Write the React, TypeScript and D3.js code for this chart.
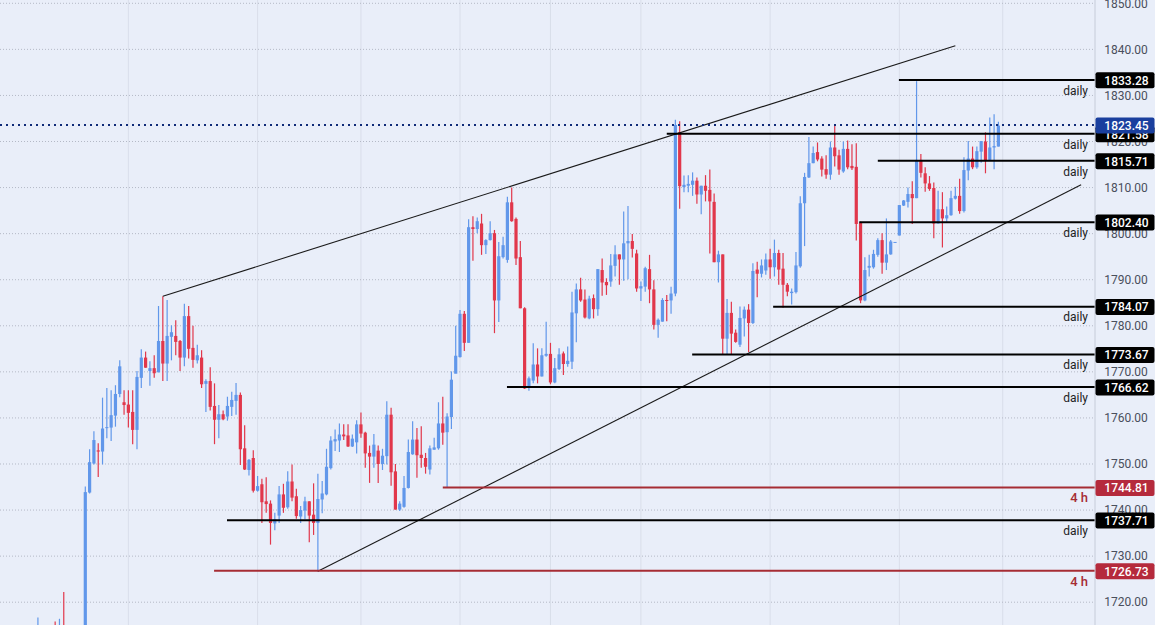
import React from "react";
import * as d3 from "d3";

type Candle = [number, number, number, number];

// open, high, low, close. the first 11 sit mostly below the visible range
const earlyCandles: Candle[] = [
  [1710, 1716.7, 1708, 1713], [1713, 1714, 1708, 1710], [1708, 1713, 1706, 1711], [1711, 1713, 1706, 1708],
  [1710, 1715.8, 1706, 1708], [1708, 1716.4, 1706, 1712], [1712, 1722.2, 1704, 1706], [1706, 1710, 1700, 1702],
  [1702, 1708, 1700, 1705], [1705, 1708, 1698, 1700], [1700, 1704, 1697, 1702],
];

const candles: Candle[] = [
  [1700, 1745.1, 1698, 1743.9], [1743.8, 1753.2, 1743.6, 1750.4], [1750.1, 1757.1, 1749.9, 1755.2], [1752.95, 1754.5, 1747.2, 1752.7],
  [1752.7, 1764.4, 1749.9, 1757.7], [1757.8, 1766.5, 1755.6, 1758], [1757.9, 1766, 1755, 1760.6], [1760.5, 1767.1, 1758.1, 1765.2],
  [1765.2, 1772.5, 1764.5, 1771.2], [1763.4, 1766, 1760.7, 1762.8], [1762.9, 1766, 1757.9, 1761.1], [1761.3, 1766, 1754.3, 1757.4],
  [1757.4, 1770.2, 1753.2, 1768.9], [1768.7, 1774.9, 1766.5, 1773.1], [1773.1, 1774.4, 1770.9, 1770.9], [1770.2, 1772.3, 1767, 1770.8],
  [1770.8, 1773.6, 1768.7, 1769.7], [1769.9, 1784.3, 1769.9, 1776.7], [1776.7, 1786.4, 1768, 1771.8], [1771.8, 1785.6, 1768, 1777.8],
  [1777.6, 1780.1, 1772.5, 1778.6], [1777.8, 1781.2, 1773.6, 1776.5], [1776.7, 1776.9, 1770.2, 1773.1], [1773.1, 1784.8, 1771.2, 1782.1],
  [1782.1, 1784.3, 1772.9, 1775], [1775.2, 1780, 1770.9, 1772.6], [1772.5, 1775.9, 1771.8, 1773.6], [1773.1, 1774.7, 1766.5, 1767.3],
  [1767.4, 1768.4, 1761.3, 1768], [1768, 1771, 1761.6, 1762.4], [1762.6, 1767.5, 1754.3, 1759.6], [1759.6, 1762.8, 1755.6, 1760.8],
  [1760.8, 1761.6, 1759.5, 1759.7], [1760.3, 1764.6, 1759.4, 1762.6], [1762.4, 1765.7, 1760.4, 1763.9], [1763.7, 1767.6, 1760.7, 1765],
  [1765, 1765.5, 1749.8, 1753.2], [1753.4, 1758.4, 1748.7, 1748.8], [1748.7, 1751.1, 1747.5, 1750.9], [1751.3, 1753, 1743.8, 1744.2],
  [1744.2, 1747.4, 1744, 1745.2], [1745.6, 1746.8, 1737.2, 1741.7], [1741.9, 1747.1, 1739.4, 1741.3], [1741.4, 1742.1, 1732.5, 1737.2],
  [1737.1, 1739.4, 1735.6, 1738], [1738.8, 1745.2, 1737.2, 1743.4], [1743.4, 1745.7, 1739.4, 1740.5], [1740.6, 1748.4, 1740.3, 1746.2],
  [1746.2, 1749.9, 1741.9, 1742.7], [1743, 1744.6, 1738.1, 1738.7], [1738.6, 1740.9, 1737.2, 1740], [1739.9, 1742.9, 1738, 1741.9],
  [1741.9, 1741.9, 1733, 1738.8], [1739, 1745.8, 1734.6, 1737.2], [1737.2, 1747.9, 1726.6, 1742.4], [1742.3, 1746.3, 1739.3, 1743.6],
  [1743.4, 1753.3, 1743.2, 1749.4], [1749.1, 1756, 1748.8, 1755.1], [1754.9, 1757.5, 1752.8, 1755.4], [1755.1, 1758.8, 1752.6, 1756.4],
  [1756.4, 1758.6, 1755.2, 1756], [1756.2, 1758.6, 1753.7, 1753.8], [1753.8, 1756.4, 1753.7, 1755.5], [1754.7, 1759.5, 1752.3, 1758.6],
  [1758.6, 1761.2, 1755.7, 1756.6], [1756.8, 1757, 1749.2, 1752.3], [1752.4, 1754, 1745.9, 1751.6], [1751.6, 1756.5, 1749.2, 1754.2],
  [1752.9, 1754, 1745.9, 1750], [1750, 1753.3, 1748.7, 1751.8], [1751.7, 1763.6, 1749.9, 1760.7], [1760.7, 1762.2, 1745.3, 1748.2],
  [1748.4, 1750, 1740.1, 1740.1], [1740.1, 1741.9, 1739.8, 1741.4], [1740.7, 1747.4, 1740.5, 1744.8], [1744.8, 1755.3, 1744.7, 1752.6],
  [1752.1, 1759.3, 1752, 1755.3], [1755.3, 1757.8, 1747, 1751.9], [1752, 1758.2, 1749.2, 1751.3], [1751.3, 1752.4, 1747.9, 1749.4],
  [1748.8, 1754, 1747.7, 1753.4], [1753.1, 1755.7, 1753.1, 1753.6], [1753.4, 1763.4, 1753.1, 1758.8], [1758.8, 1764.6, 1754.2, 1756.8],
  [1756.9, 1761, 1745, 1760.3], [1760.2, 1770.1, 1757.6, 1768.3], [1769.6, 1780, 1769.7, 1773.5], [1773.2, 1783.4, 1773.1, 1782.6],
  [1782.6, 1783.2, 1774.5, 1776.3], [1776.3, 1803.1, 1776.3, 1801.4], [1801.4, 1803.8, 1794.1, 1801], [1801, 1803.5, 1800.1, 1802.7],
  [1802.2, 1804.3, 1795.4, 1797.5], [1797.5, 1798.8, 1795.6, 1798.6], [1798.6, 1802.7, 1798.5, 1800.1], [1800.1, 1800.8, 1778.4, 1785.5],
  [1785.5, 1798.2, 1780.8, 1795.1], [1794.9, 1799.3, 1794.6, 1797.5], [1794.3, 1808, 1793.7, 1806.8], [1806.8, 1810, 1802.6, 1802.7],
  [1803.2, 1803.5, 1793.2, 1794.6], [1794.9, 1798.4, 1783.8, 1783.8], [1783.8, 1784, 1766.3, 1766.4], [1766.8, 1769, 1765.9, 1768.6],
  [1768.1, 1776.2, 1767.5, 1771.6], [1771.6, 1775.1, 1767.5, 1769], [1769, 1775.1, 1769, 1773.6], [1773.5, 1780.9, 1773.3, 1773.9],
  [1773.9, 1776.3, 1767.3, 1767.7], [1767.7, 1773, 1767.5, 1770.8], [1770.6, 1775.1, 1770.4, 1773.8], [1774, 1774.4, 1769.3, 1771.7],
  [1771.7, 1775.5, 1771.1, 1772.4], [1772.2, 1787.4, 1770.6, 1782.9], [1782.7, 1789.2, 1776.4, 1787.9], [1787.9, 1790.4, 1785.2, 1785.5],
  [1785.7, 1787.9, 1781.6, 1781.8], [1781.6, 1786.5, 1781.4, 1785.9], [1786, 1786.8, 1781.6, 1783.6], [1783.6, 1792.3, 1782.2, 1792.3],
  [1792.1, 1794.6, 1786.5, 1789.4], [1789.5, 1790.3, 1786.7, 1788.8], [1789.6, 1795.6, 1788.5, 1793.1], [1793, 1797.5, 1790.7, 1795.5],
  [1795.5, 1795.5, 1788.9, 1794.4], [1794.4, 1804.8, 1789.8, 1797.9], [1797.9, 1806, 1790.1, 1798.4], [1798.4, 1799.9, 1794.8, 1796.7],
  [1795.7, 1796.5, 1787.4, 1788.1], [1788.1, 1789.6, 1785.4, 1788.6], [1788.5, 1792.8, 1787.4, 1792.5], [1792.3, 1795.4, 1784.9, 1787.9],
  [1787.9, 1789.9, 1779.2, 1780.2], [1780.2, 1781.6, 1777.4, 1781.3], [1780.9, 1786, 1780.9, 1785.6], [1785.6, 1786.7, 1781, 1785.4],
  [1785.5, 1788.5, 1782.6, 1787], [1787, 1824.7, 1786.4, 1823.6], [1822, 1824.4, 1805.4, 1810.3], [1810.1, 1812.6, 1809, 1810.6],
  [1810.4, 1812.7, 1809, 1810.8], [1810.6, 1813.3, 1808.2, 1811.5], [1811.5, 1812.2, 1806.5, 1808.5], [1808.5, 1810.4, 1804.2, 1810.4],
  [1810.4, 1812.7, 1807, 1809.3], [1809.5, 1813.9, 1795.7, 1807], [1806.9, 1808.7, 1793.8, 1793.8], [1793.8, 1796.3, 1789.4, 1795.5],
  [1795.5, 1795.5, 1773.9, 1777.2], [1777.2, 1785.8, 1773.9, 1782.8], [1782.8, 1785.2, 1773.9, 1778.3], [1778.5, 1779.2, 1776.3, 1776.5],
  [1775.9, 1784.2, 1775.4, 1781.7], [1781.6, 1784.2, 1777.7, 1783.5], [1783.5, 1784.7, 1774.3, 1780.6], [1780.6, 1793.6, 1780.4, 1791.9],
  [1792.2, 1793.9, 1786.2, 1791.3], [1791.3, 1794.4, 1790.5, 1793.1], [1792, 1795.7, 1791.1, 1794.4], [1794.4, 1796.7, 1790.2, 1792.7],
  [1792.7, 1798.7, 1790.7, 1795.8], [1795.8, 1796.5, 1788.9, 1792.2], [1792.4, 1795.8, 1783.9, 1788.9], [1788.9, 1789.3, 1786.4, 1787.4],
  [1787.1, 1788.1, 1784.6, 1787.4], [1787.3, 1796, 1787, 1793.1], [1792.9, 1808.1, 1792.6, 1806.6], [1806.6, 1813.2, 1797.3, 1812.3],
  [1812.2, 1821, 1812.1, 1815.3], [1815.3, 1818.9, 1815.3, 1817.5], [1817.7, 1819.8, 1815.7, 1816.1], [1816.3, 1816.8, 1812.4, 1813.9],
  [1814, 1817, 1811.9, 1812.8], [1812.8, 1820, 1811.7, 1818.7], [1818.7, 1823.6, 1814.6, 1816.8], [1817, 1818.2, 1812.8, 1813.9],
  [1813.5, 1820, 1813.2, 1818.4], [1818.4, 1820.2, 1814, 1814.4], [1814.7, 1819.4, 1813.8, 1814.2], [1814.5, 1819.6, 1798.5, 1802.1],
  [1802.4, 1802.6, 1784.9, 1785.5], [1785.5, 1794.9, 1785.3, 1792.1], [1792.6, 1795.4, 1790.7, 1793], [1792.7, 1796.5, 1792.4, 1795.6],
  [1795.4, 1799, 1795, 1798.6], [1798.6, 1800.1, 1791.3, 1793.7], [1793.7, 1803.3, 1792.1, 1795.5], [1795.5, 1798.6, 1795.4, 1798.3],
  [1798.1, 1798.2, 1798.1, 1798.2], [1799.6, 1806.2, 1799.6, 1806.2], [1806.1, 1807.3, 1806, 1807.2], [1806.9, 1810, 1805.7, 1808.6],
  [1808.6, 1811.4, 1802.1, 1807.7], [1807.7, 1833.1, 1807.7, 1816], [1816, 1817.3, 1812.2, 1813.2], [1813.1, 1814.4, 1809.1, 1810.9],
  [1810.9, 1812.5, 1809.3, 1809.7], [1809.9, 1811.1, 1799, 1802.2], [1802.2, 1809.3, 1802.2, 1805.3], [1805.3, 1809, 1797, 1803.3],
  [1803.3, 1805.9, 1802.6, 1804], [1804, 1809.3, 1803.9, 1807.7], [1807.6, 1810.2, 1807.4, 1808.2], [1808.2, 1811.9, 1804.3, 1804.9],
  [1804.9, 1816.6, 1804.6, 1813.8], [1813.7, 1820.1, 1811.6, 1816.3], [1816.3, 1818.9, 1814, 1814.4], [1814.4, 1818.9, 1814.1, 1817.9],
  [1817.8, 1820.1, 1815.4, 1820.1], [1820, 1822, 1813.1, 1815.8], [1816, 1825.2, 1815.9, 1818.7], [1818.7, 1825.9, 1814, 1819],
  [1818.9, 1824.3, 1818.9, 1823.45],
];

const priceTicks = d3.range(1720, 1851, 10);
const gridBars = [10, 40, 64, 87, 108, 129, 159, 189, 213];

const lastPrice = 1823.45;
const levelPrices = [1833.28, 1821.58, 1815.71, 1802.4, 1784.07, 1773.67, 1766.62, 1744.81, 1737.71, 1726.73];
const levelStarts = [188.9, 135, 184, 179.7, 159.7, 140.9, 97.9, 83, 32.9, 29.9];
const levelFrames = ["daily", "daily", "daily", "daily", "daily", "daily", "daily", "4 h", "daily", "4 h"];

// [bar, price] ends of the two channel lines
const upperTrend = [[18, 1786.4], [202, 1840.8]];
const lowerTrend = [[54, 1726.7], [231.2, 1810.6]];

const bg = "#e9eef9";
const up = "#6197ea";
const down = "#e1374b";
const black = "#000000";
const lineRed = "#a62c34";
const tagRed = "#b52a3c";
const axisX = 1095;
const font = "Roboto, sans-serif";

const x = d3.scaleLinear().domain([0, 212]).range([85.3, 998.4]);
const y = d3.scaleLinear().domain([1720, 1850]).range([602.2, 3.3]);
const fmt = d3.format(".2f");
const trendLine = d3.line<number[]>().x((d) => x(d[0])).y((d) => y(d[1]));

function Tag({ price, fill }: { price: number; fill: string }) {
  return (
    <g transform={`translate(${axisX + 0.5},${y(price)})`}>
      <rect x={0} y={-8} width={59} height={16} rx={2} fill={fill} />
      <text x={31} y={4.3} textAnchor="middle" fill="#fff" fontSize={12} fontWeight={500} fontFamily={font}>
        {fmt(price)}
      </text>
    </g>
  );
}

export default function App() {
  const bars = [...earlyCandles, ...candles].map((c, i) => ({ c, i: i - earlyCandles.length }));
  return (
    <>
      <style>{`html,body{margin:0;background:${bg}}`}</style>
      <svg width={1155} height={625} style={{ display: "block", background: bg }}>
        {gridBars.map((b) => (
          <line key={b} x1={x(b)} x2={x(b)} y1={0} y2={625} stroke="#d9deea" strokeWidth={1} />
        ))}
        {priceTicks.map((t) => (
          <line key={t} x1={0} x2={axisX} y1={y(t)} y2={y(t)} stroke="#b4b9c6" strokeWidth={1} strokeDasharray="1 2" />
        ))}

        {bars.map(({ c, i }) => {
          const [o, h, l, cl] = c;
          const col = cl >= o ? up : down;
          const top = y(Math.max(o, cl));
          const bottom = y(Math.min(o, cl));
          return (
            <g key={i}>
              <line x1={x(i)} x2={x(i)} y1={y(h)} y2={y(l)} stroke={col} strokeWidth={1.2} />
              <rect x={x(i) - 1.6} y={top} width={3.2} height={Math.max(bottom - top, 1)} fill={col} />
            </g>
          );
        })}

        <path d={trendLine(upperTrend) ?? ""} fill="none" stroke="#1a1a1a" strokeWidth={1.1} />
        <path d={trendLine(lowerTrend) ?? ""} fill="none" stroke="#1a1a1a" strokeWidth={1.1} />

        <line x1={0} x2={axisX} y1={y(lastPrice) - 0.5} y2={y(lastPrice) - 0.5} stroke="#0f2a78" strokeWidth={2} strokeDasharray="2 4" />

        {levelPrices.map((p, k) => {
          const isH4 = levelFrames[k] === "4 h";
          return (
            <g key={p}>
              <line x1={x(levelStarts[k])} x2={axisX} y1={y(p) - 0.4} y2={y(p) - 0.4} stroke={isH4 ? lineRed : black} strokeWidth={2} />
              <text
                x={1088}
                y={y(p) + 14.4}
                textAnchor="end"
                fontSize={isH4 ? 13 : 12}
                fontWeight={isH4 ? 500 : 400}
                fontFamily={font}
                fill={isH4 ? lineRed : "#222"}
              >
                {levelFrames[k]}
              </text>
            </g>
          );
        })}

        <line x1={axisX} x2={axisX} y1={0} y2={625} stroke="#c6ccd9" strokeWidth={1} />
        {priceTicks.map((t) => (
          <text key={t} x={axisX + 31} y={y(t) + 4.2} textAnchor="middle" fontSize={12} fontFamily={font} fill="#4a4f5c">
            {fmt(t)}
          </text>
        ))}

        {levelPrices.map((p, k) => (
          <Tag key={p} price={p} fill={levelFrames[k] === "4 h" ? tagRed : black} />
        ))}
        <Tag price={lastPrice} fill="#1a3f9e" />
      </svg>
    </>
  );
}
